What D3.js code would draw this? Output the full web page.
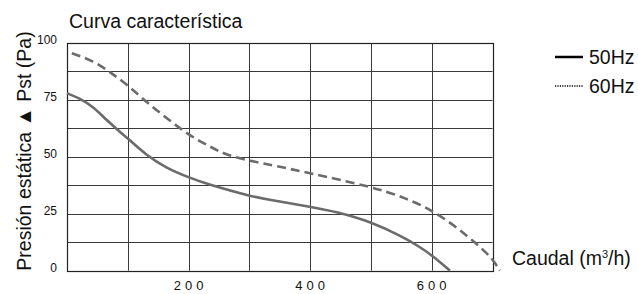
<!DOCTYPE html>
<html><head><meta charset="utf-8">
<script src="https://cdn.jsdelivr.net/npm/d3@7"></script>
<style>body{margin:0;background:#fff}svg{display:block;font-family:"Liberation Sans",Arial,sans-serif}</style>
</head><body><svg id="c" width="638" height="294"></svg>
<script>
const xTicks = [200, 400, 600];
const yTicks = [0, 25, 50, 75, 100];
const series50 = [[0,77.9],[21,75.7],[43,72],[65,66.2],[87,61],[100,58.1],[130,50.8],[164,45],[200,41],[235,37.6],[300,32.8],[350,30.3],[400,28.1],[443,25.9],[500,21.5],[552,14.9],[580,10.5],[600,6.9],[630,0]];
const series60 = [[8,95.5],[43,92.2],[70,87.4],[100,81.5],[130,74.2],[164,67],[200,59.6],[235,54.5],[262,50.8],[300,48.3],[344,46],[400,42.8],[500,36.9],[552,32.5],[600,26.7],[640,19.3],[673,12],[700,5.4],[712,0]];
const legendItems = ["50Hz", "60Hz"];

const svg = d3.select("#c");
const L = 67, R = 492.5, T = 43, B = 270.7;
const x = d3.scaleLinear().domain([0, 700]).range([L, R]);
const y = d3.scaleLinear().domain([0, 100]).range([B, T]);

// grid
const g = svg.append("g");
d3.range(0, 701, 100).forEach(v => {
  g.append("line").attr("x1", Math.round(x(v)) + 0.5).attr("x2", Math.round(x(v)) + 0.5)
    .attr("y1", T).attr("y2", B).attr("stroke", "#3a3a3a").attr("stroke-width", 1);
});
d3.range(0, 100.1, 12.5).forEach(v => {
  g.append("line").attr("y1", Math.round(y(v)) + 0.5).attr("y2", Math.round(y(v)) + 0.5)
    .attr("x1", L).attr("x2", R).attr("stroke", "#3a3a3a").attr("stroke-width", 1);
});
g.append("rect").attr("x", Math.round(L)+0.5).attr("y", Math.round(T)+0.5)
  .attr("width", Math.round(R)-Math.round(L)).attr("height", Math.round(B)-Math.round(T))
  .attr("fill", "none").attr("stroke", "#222").attr("stroke-width", 1.2);

// y tick labels
svg.append("g").selectAll("text").data(yTicks).join("text")
  .attr("x", 57).attr("y", d => y(d) + 1).attr("text-anchor", "end")
  .attr("font-size", 12).attr("fill", "#111").text(d => d);

// x tick labels
svg.append("g").selectAll("text").data(xTicks).join("text")
  .attr("x", d => x(d) + 2).attr("y", 290).attr("text-anchor", "middle")
  .attr("font-size", 13).attr("letter-spacing", 4).attr("fill", "#111").text(d => d);

// curves
const line = d3.line().x(d => x(d[0])).y(d => y(d[1])).curve(d3.curveBasis);
svg.append("path").datum(series50).attr("d", line).attr("fill", "none")
  .attr("stroke", "#6b6b6b").attr("stroke-width", 2.6);
svg.append("path").datum(series60).attr("d", line).attr("fill", "none")
  .attr("stroke", "#6b6b6b").attr("stroke-width", 2.6).attr("stroke-dasharray", "9,5");

// title
svg.append("text").attr("x", 69).attr("y", 28).attr("font-size", 19.5).attr("fill", "#111")
  .text("Curva característica");

// y axis label
svg.append("text").attr("transform", "translate(31,151) rotate(-90)").attr("text-anchor", "middle")
  .attr("font-size", 19.5).attr("fill", "#111").text("Presión estática ▲ Pst (Pa)");

// x axis label
const xl = svg.append("text").attr("x", 512).attr("y", 265).attr("font-size", 19.5).attr("fill", "#111");
xl.append("tspan").text("Caudal (m");
xl.append("tspan").attr("font-size", 11).attr("dy", -7).text("3");
xl.append("tspan").attr("dy", 7).text("/h)");

// legend
const lg = svg.append("g");
legendItems.forEach((t, i) => {
  const yy = 57 + i * 29;
  lg.append("line").attr("x1", 555).attr("x2", 583).attr("y1", yy).attr("y2", yy)
    .attr("stroke", "#000").attr("stroke-width", i === 0 ? 2.5 : 1.5)
    .attr("stroke-dasharray", i === 0 ? null : "1.2,1.2");
  lg.append("text").attr("x", 589).attr("y", yy + 7).attr("font-size", 19.5).attr("fill", "#111").text(t);
});
</script></body></html>
